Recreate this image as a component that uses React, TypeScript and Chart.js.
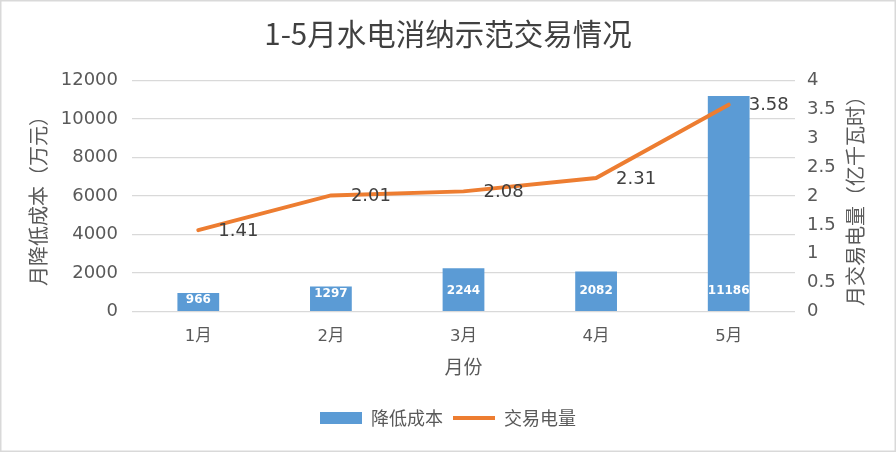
import React, { useEffect, useRef } from "react";
import { Chart, registerables } from "chart.js";

Chart.register(...registerables);

const categories = ["1月", "2月", "3月", "4月", "5月"];
const costValues = [966, 1297, 2244, 2082, 11186];
const volumeValues = [1.41, 2.01, 2.08, 2.31, 3.58];
const chartTitle = "1-5月水电消纳示范交易情况";
const leftTitle = "月降低成本（万元）";
const rightTitle = "月交易电量（亿千瓦时）";
const xTitle = "月份";
const costLabel = "降低成本";
const volumeLabel = "交易电量";

const BLUE = "#5B9BD5";
const ORANGE = "#ED7D31";
const TEXT = "#595959";
const NUM_FONT = "'DejaVu Sans', 'Noto Sans CJK SC', sans-serif";
const CJK_FONT = "'Noto Sans CJK SC', 'DejaVu Sans', sans-serif";

const extras = {
  id: "extras",
  beforeDraw(chart: any) {
    const { ctx, width, height } = chart;
    ctx.save();
    ctx.fillStyle = "#fff";
    ctx.fillRect(0, 0, width, height);
    ctx.strokeStyle = "#D9D9D9";
    ctx.lineWidth = 1.5;
    ctx.strokeRect(0.75, 0.75, width - 1.5, height - 1.5);
    ctx.restore();
  },
  afterDatasetsDraw(chart: any) {
    const { ctx, chartArea } = chart;
    ctx.save();
    const barMeta = chart.getDatasetMeta(0);
    ctx.fillStyle = "#fff";
    ctx.font = `bold 12px ${NUM_FONT}`;
    ctx.textAlign = "center";
    ctx.textBaseline = "middle";
    barMeta.data.forEach((el: any, i: number) => {
      const y = Math.max(el.y + 7, el.base - 20);
      ctx.fillText(String(costValues[i]), el.x, y);
    });
    const lineMeta = chart.getDatasetMeta(1);
    ctx.fillStyle = "#404040";
    ctx.font = `18px ${NUM_FONT}`;
    ctx.textAlign = "left";
    lineMeta.data.forEach((el: any, i: number) => {
      ctx.fillText(volumeValues[i].toFixed(2), el.x + 20, el.y + 1);
    });
    // right axis title, reading bottom-to-top
    const y1 = chart.scales.y1;
    ctx.fillStyle = TEXT;
    ctx.font = `20px ${CJK_FONT}`;
    ctx.textAlign = "center";
    ctx.textBaseline = "middle";
    ctx.translate(y1.left + 60, (chartArea.top + chartArea.bottom) / 2);
    ctx.rotate(-Math.PI / 2);
    ctx.fillText(rightTitle, 0, 0);
    ctx.restore();
  },
};

export default function App() {
  const ref = useRef<HTMLCanvasElement>(null);
  useEffect(() => {
    if (!ref.current) return;
    const chart = new Chart(ref.current, {
      type: "bar",
      data: {
        labels: categories,
        datasets: [
          {
            type: "bar",
            label: costLabel,
            data: costValues,
            backgroundColor: BLUE,
            borderWidth: 0,
            yAxisID: "y",
            order: 1,
            barPercentage: 0.315,
            categoryPercentage: 1,
            pointStyle: "rect",
          } as any,
          {
            type: "line",
            label: volumeLabel,
            data: volumeValues,
            borderColor: ORANGE,
            backgroundColor: ORANGE,
            borderWidth: 4,
            pointRadius: 0,
            tension: 0,
            yAxisID: "y1",
            order: 0,
            pointStyle: "line",
            borderCapStyle: "round",
          } as any,
        ],
      },
      options: {
        animation: false,
        responsive: true,
        maintainAspectRatio: false,
        layout: { padding: { left: 0, right: 0, top: 0, bottom: 15 } },
        plugins: {
          title: {
            display: true,
            text: chartTitle,
            color: "#404040",
            font: { family: CJK_FONT, size: 29.5, weight: "normal" },
            padding: { top: 16, bottom: 29 },
          },
          legend: {
            display: true,
            position: "bottom",
            labels: {
              usePointStyle: true,
              pointStyleWidth: 42,
              boxHeight: 12,
              color: TEXT,
              font: { family: CJK_FONT, size: 18 },
              padding: 10,
              sort: (a: any, b: any) => a.datasetIndex - b.datasetIndex,
            },
          },
          tooltip: { enabled: false },
        },
        scales: {
          x: {
            offset: true,
            grid: { display: false, drawTicks: false },
            border: { display: false },
            ticks: { color: TEXT, font: { family: NUM_FONT, size: 16.5 }, padding: 15 },
            title: {
              display: true,
              text: xTitle,
              color: TEXT,
              font: { family: CJK_FONT, size: 19 },
              padding: { top: 8, bottom: 21 },
            },
            afterFit: (scale: any) => {
              scale.height = 87.4;
            },
          },
          y: {
            position: "left",
            min: 0,
            max: 12000,
            ticks: {
              stepSize: 2000,
              color: TEXT,
              font: { family: NUM_FONT, size: 18 },
              padding: 14,
              callback: (v: any) => String(v),
            },
            grid: { color: "#D9D9D9", lineWidth: 1.3, drawTicks: false },
            border: { display: false },
            title: {
              display: true,
              text: leftTitle,
              color: TEXT,
              font: { family: CJK_FONT, size: 20 },
              padding: { top: 26, bottom: 0 },
            },
            afterFit: (scale: any) => {
              scale.width = 132;
            },
          },
          y1: {
            position: "right",
            min: 0,
            max: 4,
            ticks: {
              stepSize: 0.5,
              color: TEXT,
              font: { family: NUM_FONT, size: 18 },
              padding: 12,
              callback: (v: any) => String(v),
            },
            grid: { display: false, drawTicks: false },
            border: { display: false },
            afterFit: (scale: any) => {
              scale.width = 101;
            },
          },
        },
      } as any,
      plugins: [extras],
    });
    return () => chart.destroy();
  }, []);
  return (
    <div style={{ position: "absolute", left: 0, top: 0, width: 896, height: 452 }}>
      <canvas ref={ref} />
    </div>
  );
}
